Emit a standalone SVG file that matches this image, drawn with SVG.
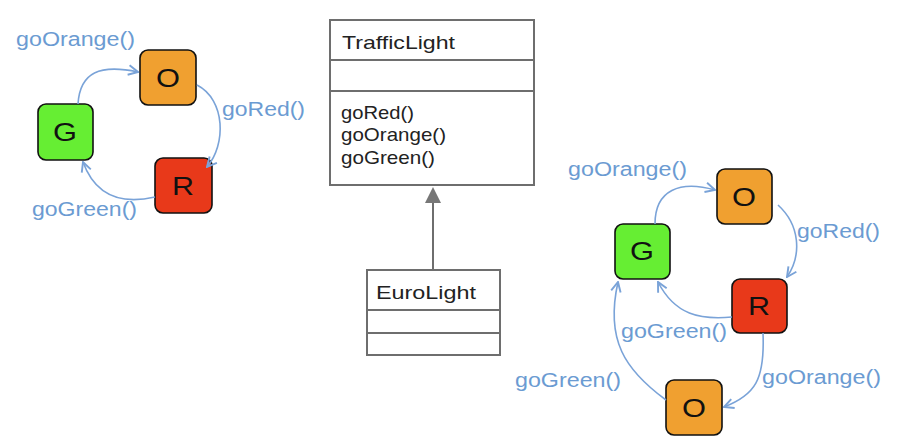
<svg xmlns="http://www.w3.org/2000/svg" width="905" height="438" viewBox="0 0 905 438">
<style>
.lbl{font-family:"Liberation Sans",Arial,sans-serif;font-size:20px;fill:#6b9bd2}
.uml{font-family:"Liberation Sans",Arial,sans-serif;font-size:18.5px;fill:#222}
.st{font-family:"Liberation Sans",Arial,sans-serif;font-size:25px;fill:#111;text-anchor:middle}
.box{stroke:#111;stroke-width:1.6}
.o{fill:#f0a030}.g{fill:#66ee33}.r{fill:#e8391a}
.cls{fill:#fff;stroke:#6e6e6e;stroke-width:2}
.arr{fill:none;stroke:#7aa3d8;stroke-width:1.6;marker-end:url(#ah)}
</style>
<defs>
<marker id="ah" viewBox="0 0 10 10" refX="9" refY="5" markerWidth="12" markerHeight="12" markerUnits="userSpaceOnUse" orient="auto">
<path d="M1,1 L9,5 L1,9" fill="none" stroke="#7aa3d8" stroke-width="1.6"/>
</marker>
</defs>
<rect width="905" height="438" fill="#fff"/>
<g id="left-O"><rect class="box o" x="140" y="50" width="56" height="55" rx="8"/><text class="st" x="168" y="87" textLength="24" lengthAdjust="spacingAndGlyphs">O</text></g>
<g id="left-G"><rect class="box g" x="38" y="104" width="55" height="56" rx="8"/><text class="st" x="65" y="141" textLength="24" lengthAdjust="spacingAndGlyphs">G</text></g>
<g id="left-R"><rect class="box r" x="155" y="158" width="57" height="55" rx="8"/><text class="st" x="183" y="195" textLength="22" lengthAdjust="spacingAndGlyphs">R</text></g>
<g id="right-O1"><rect class="box o" x="717" y="169" width="55" height="55" rx="8"/><text class="st" x="744" y="206" textLength="24" lengthAdjust="spacingAndGlyphs">O</text></g>
<g id="right-G"><rect class="box g" x="615" y="224" width="55" height="55" rx="8"/><text class="st" x="642" y="260" textLength="24" lengthAdjust="spacingAndGlyphs">G</text></g>
<g id="right-R"><rect class="box r" x="732" y="279" width="55" height="54" rx="8"/><text class="st" x="759" y="315" textLength="22" lengthAdjust="spacingAndGlyphs">R</text></g>
<g id="right-O2"><rect class="box o" x="666" y="380" width="56" height="55" rx="8"/><text class="st" x="694" y="417" textLength="24" lengthAdjust="spacingAndGlyphs">O</text></g>
<g id="connectors">
<path class="arr" d="M78,104 C80,72 100,64 138,72"/>
<path class="arr" d="M197,85 C226,100 226,145 207,167"/>
<path class="arr" d="M155,197 C120,205 95,195 83,162"/>
<path class="arr" d="M655,224 C655,190 680,180 715,190"/>
<path class="arr" d="M778,205 C800,225 802,255 787,277"/>
<path class="arr" d="M732,317 C700,320 675,315 658,282"/>
<path class="arr" d="M763,333 C765,380 755,395 724,407"/>
<path class="arr" d="M666,400 C625,370 605,340 618,282"/>
<line x1="433" y1="270" x2="433" y2="200" stroke="#6e6e6e" stroke-width="2"/>
<polygon points="425,203 441,203 433,187" fill="#777"/>
</g>
<g id="labels">
<text class="lbl" x="16" y="46" textLength="119" lengthAdjust="spacingAndGlyphs">goOrange()</text>
<text class="lbl" x="222" y="116" textLength="83" lengthAdjust="spacingAndGlyphs">goRed()</text>
<text class="lbl" x="32" y="216" textLength="105" lengthAdjust="spacingAndGlyphs">goGreen()</text>
<text class="lbl" x="568" y="176" textLength="119" lengthAdjust="spacingAndGlyphs">goOrange()</text>
<text class="lbl" x="797" y="238" textLength="83" lengthAdjust="spacingAndGlyphs">goRed()</text>
<text class="lbl" x="621" y="338" textLength="106" lengthAdjust="spacingAndGlyphs">goGreen()</text>
<text class="lbl" x="515" y="387" textLength="106" lengthAdjust="spacingAndGlyphs">goGreen()</text>
<text class="lbl" x="762" y="384" textLength="119" lengthAdjust="spacingAndGlyphs">goOrange()</text>
</g>
<g id="TrafficLight">
<rect class="cls" x="330" y="20" width="204" height="165"/>
<line x1="330" y1="60" x2="534" y2="60" stroke="#6e6e6e" stroke-width="2"/>
<line x1="330" y1="91" x2="534" y2="91" stroke="#6e6e6e" stroke-width="2"/>
<text class="uml" x="342" y="49" textLength="113" lengthAdjust="spacingAndGlyphs">TrafficLight</text>
<text class="uml" x="341" y="119" textLength="73" lengthAdjust="spacingAndGlyphs">goRed()</text>
<text class="uml" x="341" y="141" textLength="105" lengthAdjust="spacingAndGlyphs">goOrange()</text>
<text class="uml" x="341" y="164" textLength="94" lengthAdjust="spacingAndGlyphs">goGreen()</text>
</g>
<g id="EuroLight">
<rect class="cls" x="367" y="270" width="133" height="85"/>
<line x1="367" y1="310" x2="500" y2="310" stroke="#6e6e6e" stroke-width="2"/>
<line x1="367" y1="333" x2="500" y2="333" stroke="#6e6e6e" stroke-width="2"/>
<text class="uml" x="376" y="299" textLength="100" lengthAdjust="spacingAndGlyphs">EuroLight</text>
</g>
</svg>
